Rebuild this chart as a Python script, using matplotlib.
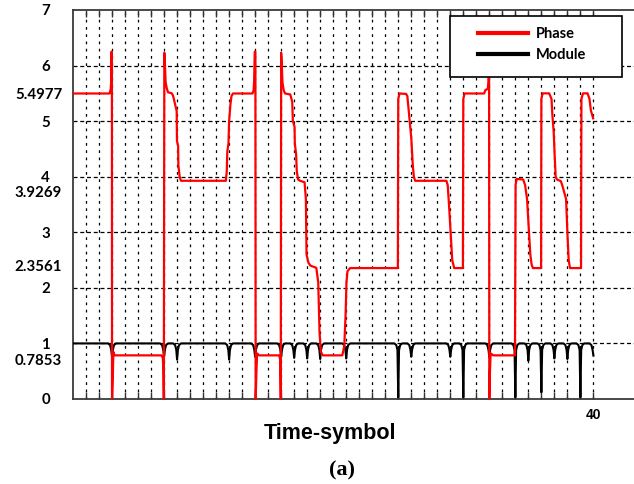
import matplotlib
matplotlib.use('Agg')
import matplotlib.pyplot as plt
from matplotlib.patches import Rectangle
from matplotlib.transforms import ScaledTranslation
import numpy as np

# phase trace: (time-symbol, rad) breakpoints
phase_pts = [
    (0.0, 5.4977), (2.82, 5.4977), (2.9, 5.58), (2.93, 5.7), (2.95, 6.25), (2.99, 6.25),
    (3.0, 0.0), (3.06, 0.4), (3.1, 0.85), (3.2, 0.7853),
    (6.8, 0.7853), (6.9, 0.74), (6.95, 0.55), (6.98, 0.0),
    (7.02, 6.23), (7.07, 6.0), (7.12, 5.7), (7.2, 5.6), (7.3, 5.52), (7.6, 5.5),
    (7.7, 5.45), (7.85, 5.3), (7.97, 5.18), (7.99, 4.65), (8.08, 4.55), (8.1, 4.2),
    (8.2, 4.0), (8.3, 3.9269),
    (11.75, 3.9269), (11.82, 4.1), (11.86, 4.45), (11.95, 4.6), (12.0, 5.0),
    (12.1, 5.3), (12.18, 5.45), (12.3, 5.4977),
    (13.8, 5.4977), (13.88, 5.55), (13.92, 5.7), (13.97, 6.25), (14.02, 6.25),
    (14.04, 0.0), (14.1, 0.5), (14.15, 0.82), (14.3, 0.7853),
    (15.85, 0.7853), (15.93, 0.7), (15.97, 0.0),
    (16.0, 6.23), (16.05, 6.0), (16.1, 5.7), (16.2, 5.55), (16.3, 5.4977),
    (16.7, 5.48), (16.85, 5.35), (16.9, 5.0), (17.03, 4.9), (17.05, 4.6),
    (17.15, 4.4), (17.2, 4.1), (17.3, 3.95), (17.45, 3.9269),
    (17.8, 3.9), (17.9, 3.6), (17.95, 2.6), (18.1, 2.45), (18.25, 2.4), (18.7, 2.36),
    (18.85, 2.1), (18.95, 1.2), (19.05, 0.85), (19.2, 0.7853),
    (20.7, 0.7853), (20.85, 0.95), (20.95, 1.5), (21.02, 2.1), (21.1, 2.3), (21.3, 2.3561),
    (24.97, 2.3561), (25.0, 5.4), (25.1, 5.4977), (25.6, 5.49), (25.7, 5.45),
    (25.8, 5.2), (25.9, 4.95), (26.0, 4.7), (26.12, 4.2), (26.2, 4.0), (26.3, 3.9269),
    (28.7, 3.9269), (28.8, 3.85), (28.9, 3.5), (29.05, 2.9), (29.15, 2.5), (29.3, 2.3561),
    (29.97, 2.3561), (30.0, 5.4), (30.1, 5.4977),
    (31.6, 5.4977), (31.7, 5.56), (31.88, 5.58), (31.93, 5.7), (31.95, 6.28), (31.98, 6.28),
    (32.0, 0.0), (32.05, 0.5), (32.1, 0.82), (32.3, 0.7853),
    (33.97, 0.7853), (34.02, 3.85), (34.1, 3.96), (34.6, 3.95), (34.75, 3.85),
    (34.9, 3.6), (35.0, 3.2), (35.15, 2.6), (35.25, 2.42), (35.35, 2.3561),
    (35.98, 2.3561), (36.0, 5.4), (36.1, 5.5), (36.6, 5.5), (36.78, 5.4),
    (36.85, 5.1), (36.95, 4.8), (37.02, 4.4), (37.1, 4.0), (37.2, 3.95),
    (37.5, 3.92), (37.6, 3.85), (37.9, 3.6), (38.0, 3.0), (38.1, 2.5), (38.2, 2.3561),
    (39.05, 2.3561), (39.08, 5.4), (39.2, 5.5), (39.55, 5.5), (39.7, 5.4),
    (39.8, 5.2), (39.98, 5.05),
]

# module: sits at 1 with a dip at every symbol change
module_level = 1.0
dip_times = [3, 7, 8, 12, 14, 16, 17, 18, 19, 21, 25, 26, 29, 30, 32, 34, 35, 36, 37, 38, 39, 40]
dip_depths = [0.76, 0.76, 0.71, 0.71, 0.76, 0.76, 0.74, 0.73, 0.72, 0.73, 0.03, 0.76,
              0.76, 0.03, 0.75, 0.03, 0.69, 0.12, 0.73, 0.72, 0.03, 0.78]
t_end = 40

ytick_vals = [0, 0.7853, 1, 2, 2.3561, 3, 3.9269, 4, 5, 5.4977, 6, 7]
ytick_labels = ['0', '0.7853', '1', '2', '2.3561', '3', '3.9269', '4', '5', '5.4977', '6', '7']

# build module polyline (dip shape is just drawing style)
dip_dx = [-0.3, -0.15, -0.06, 0.0, 0.06, 0.15, 0.3]
dip_rel = [1.0, 0.97, 0.88, None, 0.88, 0.97, 1.0]
mod_t, mod_v = [0.0], [module_level]
for t, d in zip(dip_times, dip_depths):
    for dx, r in zip(dip_dx, dip_rel):
        if t + dx > t_end:
            continue
        mod_t.append(t + dx)
        mod_v.append(d if r is None else module_level * r)

phase = np.array(phase_pts)

W, H = 634, 484
fig = plt.figure(figsize=(W / 100, H / 100), dpi=100)
ax = fig.add_axes([73 / W, 1 - 399 / H, (W - 73) / W, 389 / H])

ax.plot(mod_t, mod_v, color='black', lw=1.5, label='Module', zorder=3)
ax.plot(phase[:, 0], phase[:, 1], color='red', lw=1.6, label='Phase', zorder=4)

ax.set_xlim(0, (W - 73) / 13.01)
ax.set_ylim(0, 7)

# x: minor ticks/grid at each symbol, only 40 labelled
ax.set_xticks([40], ['40'])
ax.set_xticks(np.arange(1, 40), minor=True)
ax.tick_params(axis='x', which='both', direction='in', top=True, bottom=True,
               length=5, width=1, color='#333333', pad=6.5)
for lbl in ax.get_xticklabels():
    lbl.set_fontfamily('Liberation Sans')
    lbl.set_fontweight('bold')
    lbl.set_fontsize(10)
ax.grid(True, which='both', axis='x', color='black', lw=0.9, linestyle=(0, (2.2, 3.6)))

# y: labels at the constellation phases, grid at integers
ax.set_yticks(ytick_vals, ytick_labels)
ax.set_yticks(np.arange(1, 7), minor=True)
ax.yaxis.remove_overlapping_locs = False
ax.tick_params(axis='y', which='both', length=0, pad=19.8)
ax.grid(True, which='minor', axis='y', color='black', lw=0.9, linestyle=(0, (3.2, 2.2)))

y_shift = {'0.7853': -4, '2.3561': 3, '3.9269': -11}
for lbl in ax.get_yticklabels():
    lbl.set_fontfamily('Lato')
    lbl.set_fontweight('bold')
    lbl.set_fontsize(10.8)
    lbl.set_horizontalalignment('center')
    txt = lbl.get_text()
    dx = -7 if len(txt) > 2 else 0
    dy = y_shift.get(txt, 0)
    lbl.set_transform(lbl.get_transform() + ScaledTranslation(dx / 100, dy / 100, fig.dpi_scale_trans))

for side in ['left', 'top', 'bottom']:
    ax.spines[side].set_color('#3a3a3a')
    ax.spines[side].set_linewidth(1.3)
ax.spines['right'].set_visible(False)

# legend box
box = Rectangle((450 / W, 1 - 77 / H), 172 / W, 61 / H, transform=fig.transFigure,
                facecolor='white', edgecolor='black', lw=1.2, zorder=4, clip_on=False)
ax.add_artist(box)
h, l = ax.get_legend_handles_labels()
leg = ax.legend(h[::-1], l[::-1], loc='upper left', bbox_to_anchor=(478 / W, 1 - 27 / H),
                bbox_transform=fig.transFigure, frameon=False,
                prop={'family': 'Lato', 'weight': 'bold', 'size': 10.5},
                handlelength=3.45, handletextpad=0.5, labelspacing=0.5,
                borderpad=0, borderaxespad=0)
leg.set_zorder(5)
for ln in leg.legend_handles:
    ln.set_linewidth(3)

fig.text(330 / W, 1 - 434 / H, 'Time-symbol', ha='center', va='center',
         family='Liberation Sans', weight='bold', fontsize=15.5)
fig.text(342 / W, 1 - 470 / H, '(a)', ha='center', va='center',
         family='Liberation Serif', weight='bold', fontsize=16)

fig.savefig('out.png', dpi=100)
